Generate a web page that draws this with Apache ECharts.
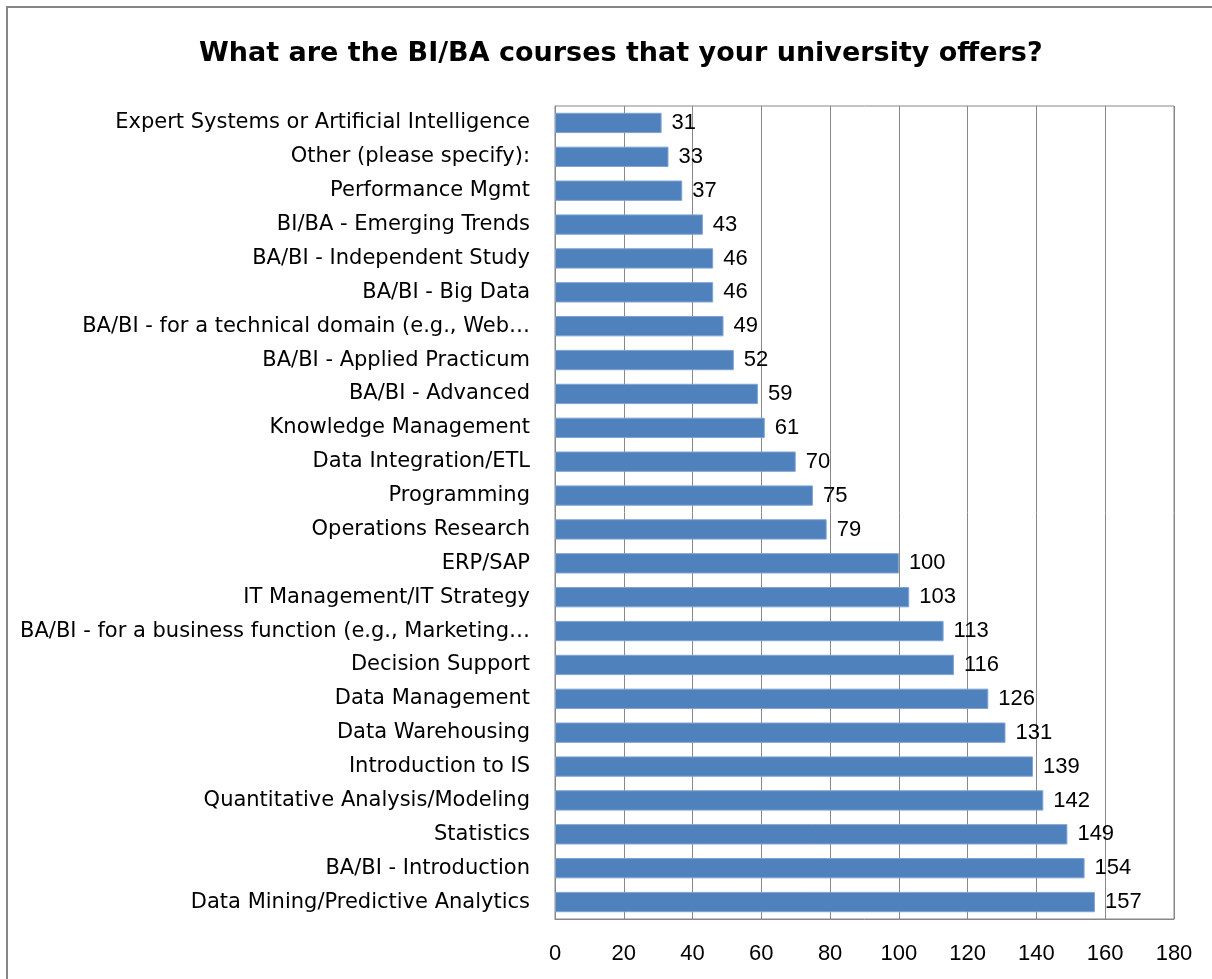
<!DOCTYPE html>
<html>
<head>
<meta charset="utf-8">
<script src="https://cdn.jsdelivr.net/npm/echarts@6/dist/echarts.min.js"></script>
<style>
  html, body { margin: 0; padding: 0; background: #fff; }
  #chart { width: 1212px; height: 979px; }
</style>
</head>
<body>
<div id="chart"></div>
<script>
// 课程名称（自上而下）
const courses = [
    'Expert Systems or Artificial Intelligence',
    'Other (please specify):',
    'Performance Mgmt',
    'BI/BA - Emerging Trends',
    'BA/BI - Independent Study',
    'BA/BI - Big Data',
    'BA/BI - for a technical domain (e.g., Web…',
    'BA/BI - Applied Practicum',
    'BA/BI - Advanced',
    'Knowledge Management',
    'Data Integration/ETL',
    'Programming',
    'Operations Research',
    'ERP/SAP',
    'IT Management/IT Strategy',
    'BA/BI - for a business function (e.g., Marketing…',
    'Decision Support',
    'Data Management',
    'Data Warehousing',
    'Introduction to IS',
    'Quantitative Analysis/Modeling',
    'Statistics',
    'BA/BI - Introduction',
    'Data Mining/Predictive Analytics'
]
// 数量
const counts = [31, 33, 37, 43, 46, 46, 49, 52, 59, 61, 70, 75, 79, 100, 103, 113, 116, 126, 131, 139, 142, 149, 154, 157]
const xMin = 0, xMax = 180, xStep = 20

const font = '"Liberation Sans", Arial, sans-serif'
const wideFont = '"DejaVu Sans", sans-serif'
const chart = echarts.init(document.getElementById('chart'))
const opt = {
    backgroundColor: '#fff',
    animation: false,
    title: {
        text: 'What are the BI/BA courses that your university offers?',
        left: 194,
        top: 35,
        textStyle: { fontFamily: wideFont, fontSize: 27, fontWeight: 'bold', color: '#000' }
    },
    graphic: [{
        type: 'rect',
        shape: { x: 7, y: 7, width: 1220, height: 990 },
        style: { fill: 'none', stroke: '#868686', lineWidth: 2 },
        silent: true
    }],
    grid: {
        left: 555, right: 38, top: 106, bottom: 60,
        show: true, borderColor: '#888', borderWidth: 1
    },
    xAxis: {
        type: 'value',
        min: xMin, max: xMax, interval: xStep,
        axisLine: { show: true, lineStyle: { color: '#888' } },
        axisTick: { show: false },
        splitLine: { lineStyle: { color: '#888', width: 1 } },
        axisLabel: { margin: 24, fontFamily: font, fontSize: 22, color: '#000' }
    },
    yAxis: {
        type: 'category',
        inverse: true,
        data: courses,
        axisLine: { show: true, lineStyle: { color: '#888' } },
        axisTick: { show: false },
        axisLabel: { margin: 25, fontFamily: wideFont, fontSize: 21, color: '#000' }
    },
    series: [{
        type: 'bar',
        data: counts,
        barCategoryGap: '40%',
        itemStyle: { color: '#4F81BD', borderColor: '#7FA3D3', borderWidth: 1 },
        label: {
            show: true, position: 'right', distance: 10,
            fontFamily: font, fontSize: 22, color: '#000'
        }
    }]
}
chart.setOption(opt)
</script>
</body>
</html>
